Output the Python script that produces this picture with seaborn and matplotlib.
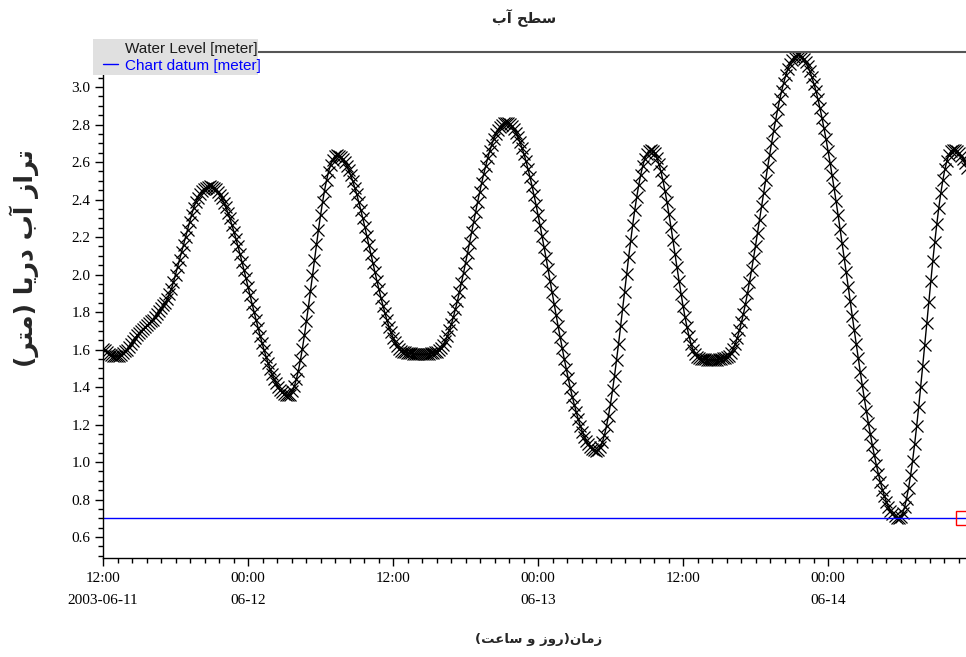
import pandas as pd
import matplotlib
matplotlib.use('Agg')
import matplotlib.pyplot as plt
from matplotlib.ticker import MultipleLocator, FormatStrFormatter
from matplotlib.lines import Line2D
from matplotlib.patches import Rectangle
import seaborn as sns

# water level every 10 minutes (meter)
level_0611 = [1.605, 1.595, 1.586, 1.578, 1.572, 1.568, 1.566, 1.565,
              1.567, 1.572, 1.58, 1.59, 1.60, 1.615, 1.63, 1.645, 1.66, 1.675, 1.69, 1.70,
              1.71, 1.72, 1.73, 1.74, 1.75, 1.76, 1.775, 1.79, 1.805, 1.82, 1.835, 1.85,
              1.87, 1.895, 1.925, 1.96, 2.00, 2.04, 2.08, 2.12, 2.16, 2.20, 2.24, 2.28,
              2.32, 2.355, 2.385, 2.41, 2.43, 2.445, 2.455, 2.463, 2.468, 2.47,
              2.468, 2.463, 2.454, 2.441, 2.425, 2.406, 2.384, 2.358, 2.330, 2.299, 2.265,
              2.229, 2.191, 2.151, 2.110, 2.068, 2.024, 1.980]
level_0612 = [1.935, 1.890, 1.845, 1.801, 1.758, 1.715, 1.674, 1.634, 1.596, 1.560, 1.526,
              1.495, 1.467, 1.441, 1.419, 1.400, 1.384, 1.371, 1.362, 1.357, 1.355,
              1.360, 1.377, 1.404, 1.441, 1.487, 1.542, 1.605, 1.675, 1.750, 1.829, 1.911,
              1.995, 2.079, 2.161, 2.240, 2.315, 2.385, 2.448, 2.503, 2.549, 2.586, 2.613,
              2.630, 2.635,
              2.633, 2.626, 2.615, 2.600, 2.580, 2.556, 2.529, 2.498, 2.464, 2.427, 2.386,
              2.344, 2.300, 2.254, 2.206, 2.159, 2.110, 2.062, 2.014, 1.966, 1.921, 1.876,
              1.834, 1.794, 1.756, 1.722, 1.691, 1.664, 1.640, 1.621, 1.605, 1.594, 1.587,
              1.585,
              1.583, 1.581, 1.579, 1.577, 1.576, 1.575, 1.574, 1.574, 1.574, 1.575, 1.576,
              1.578, 1.580, 1.582, 1.585,
              1.587, 1.595, 1.607, 1.624, 1.646, 1.672, 1.702, 1.736, 1.774, 1.816, 1.860,
              1.907, 1.957, 2.008, 2.061, 2.115, 2.170, 2.225, 2.280, 2.334, 2.387, 2.438,
              2.488, 2.535, 2.579, 2.621, 2.659, 2.693, 2.723, 2.749, 2.771, 2.788, 2.800,
              2.808, 2.81,
              2.808, 2.801, 2.791, 2.776, 2.757, 2.734, 2.708, 2.677, 2.643, 2.605, 2.564,
              2.521, 2.474, 2.424, 2.373]
level_0613 = [2.319, 2.263, 2.205, 2.147, 2.087, 2.027, 1.965, 1.905, 1.844, 1.783, 1.723,
              1.665, 1.607, 1.551, 1.498, 1.446, 1.396, 1.349, 1.306, 1.265, 1.227, 1.193,
              1.162, 1.136, 1.113, 1.094, 1.079, 1.069, 1.062, 1.060,
              1.065, 1.082, 1.108, 1.145, 1.192, 1.248, 1.312, 1.383, 1.461, 1.545, 1.632,
              1.723, 1.816, 1.909, 2.002, 2.093, 2.180, 2.264, 2.342, 2.413, 2.477, 2.533,
              2.580, 2.617, 2.643, 2.660, 2.665,
              2.660, 2.646, 2.623, 2.591, 2.550, 2.503, 2.448, 2.388, 2.322, 2.254, 2.183,
              2.110, 2.038, 1.966, 1.898, 1.833, 1.772, 1.718, 1.670, 1.629, 1.597, 1.574,
              1.560, 1.555,
              1.552, 1.550, 1.548, 1.546, 1.545, 1.544, 1.544, 1.545, 1.546, 1.548, 1.550,
              1.553, 1.556,
              1.559, 1.568, 1.584, 1.605, 1.632, 1.664, 1.702, 1.745, 1.792, 1.844, 1.900,
              1.960, 2.022, 2.087, 2.154, 2.223, 2.293, 2.363, 2.433, 2.503, 2.572, 2.639,
              2.704, 2.767, 2.826, 2.882, 2.934, 2.981, 3.024, 3.062, 3.095, 3.121, 3.143,
              3.158, 3.167, 3.170,
              3.168, 3.160, 3.148, 3.131, 3.110, 3.083, 3.052, 3.017, 2.978, 2.934, 2.887,
              2.835, 2.780, 2.722]
level_0614 = [2.661, 2.597, 2.530, 2.461, 2.390, 2.317, 2.242, 2.166, 2.090, 2.013, 1.935,
              1.857, 1.780, 1.704, 1.628, 1.553, 1.480, 1.409, 1.340, 1.273, 1.209, 1.148,
              1.090, 1.035, 0.983, 0.936, 0.892, 0.853, 0.818, 0.787, 0.761, 0.739, 0.722,
              0.710, 0.702, 0.700,
              0.707, 0.727, 0.759, 0.805, 0.862, 0.930, 1.008, 1.096, 1.191, 1.293, 1.401,
              1.512, 1.625, 1.740, 1.853, 1.964, 2.072, 2.174, 2.269, 2.357, 2.435, 2.503,
              2.561, 2.606, 2.638, 2.658, 2.665,
              2.663, 2.657, 2.647, 2.633, 2.615, 2.594, 2.570]

CHART_DATUM = 0.70
START = '2003-06-11 12:00'
END = '2003-06-14 11:25'

x_tick_labels = ['12:00\n2003-06-11', '00:00\n06-12', '12:00',
                 '00:00\n06-13', '12:00', '00:00\n06-14']

TITLE = 'سطح آب'
XLABEL = 'زمان(روز و ساعت)'
YLABEL = 'تراز آب دریا (متر)'
LEG_LEVEL = 'Water Level [meter]'
LEG_DATUM = 'Chart datum [meter]'

# matplotlib has no arabic shaping, so pick presentation forms by hand
# (isolated, final, initial, medial)
FORMS = {
    'ا': ('\uFE8D', '\uFE8E', None, None),
    'آ': ('\uFE81', '\uFE82', None, None),
    'د': ('\uFEA9', '\uFEAA', None, None),
    'ر': ('\uFEAD', '\uFEAE', None, None),
    'ز': ('\uFEAF', '\uFEB0', None, None),
    'و': ('\uFEED', '\uFEEE', None, None),
    'ب': ('\uFE8F', '\uFE90', '\uFE91', '\uFE92'),
    'ت': ('\uFE95', '\uFE96', '\uFE97', '\uFE98'),
    'ح': ('\uFEA1', '\uFEA2', '\uFEA3', '\uFEA4'),
    'س': ('\uFEB1', '\uFEB2', '\uFEB3', '\uFEB4'),
    'ط': ('\uFEC1', '\uFEC2', '\uFEC3', '\uFEC4'),
    'ع': ('\uFEC9', '\uFECA', '\uFECB', '\uFECC'),
    'م': ('\uFEE1', '\uFEE2', '\uFEE3', '\uFEE4'),
    'ن': ('\uFEE5', '\uFEE6', '\uFEE7', '\uFEE8'),
    'ی': ('\uFBFC', '\uFBFD', '\uFEF3', '\uFEF4'),
}


def shape_fa(text):
    out = []
    for i, ch in enumerate(text):
        if ch not in FORMS:
            out.append(ch)
            continue
        prev = text[i - 1] if i > 0 else ''
        nxt = text[i + 1] if i + 1 < len(text) else ''
        join_prev = prev in FORMS and FORMS[prev][2] is not None
        join_next = FORMS[ch][2] is not None and nxt in FORMS
        iso, fin, ini, med = FORMS[ch]
        if join_prev and join_next:
            out.append(med)
        elif join_prev:
            out.append(fin)
        elif join_next:
            out.append(ini)
        else:
            out.append(iso)
    mirror = {'(': ')', ')': '('}
    return ''.join(mirror.get(c, c) for c in reversed(out))


levels = level_0611 + level_0612 + level_0613 + level_0614
df = pd.DataFrame({
    'time': pd.date_range(START, periods=len(levels), freq='10min'),
    'level': levels,
})

sns.set_style('ticks')
plt.rcParams['font.family'] = ['Liberation Serif', 'DejaVu Sans']

W, H = 966, 657
fig = plt.figure(figsize=(W / 100, H / 100), dpi=100)
ax = fig.add_axes([103 / W, 1 - 558 / H, (W - 103) / W, (558 - 52) / H])

sns.lineplot(data=df, x='time', y='level', ax=ax, color='black', linewidth=1.0,
             marker='x', markersize=9, markeredgewidth=0.9,
             markeredgecolor='black', legend=False)
ax.axhline(CHART_DATUM, color='#0000ff', linewidth=1)
ax.plot(df['time'].iloc[-3], CHART_DATUM, marker='s', markersize=9.5,
        markerfacecolor='none', markeredgecolor='red', markeredgewidth=1,
        clip_on=False, zorder=5)

ax.set_xlim(pd.Timestamp(START), pd.Timestamp(END))
ax.set_ylim(0.488, 3.187)

ax.set_xticks(pd.date_range(START, periods=len(x_tick_labels), freq='12h'))
ax.set_xticklabels(x_tick_labels)
ax.xaxis.set_minor_locator(MultipleLocator(0.05))
ax.yaxis.set_major_locator(MultipleLocator(0.2))
ax.yaxis.set_minor_locator(MultipleLocator(0.05))
ax.yaxis.set_major_formatter(FormatStrFormatter('%.1f'))

ax.tick_params(axis='both', which='major', length=6, width=1, color='black',
               labelsize=11, labelcolor='black', direction='out')
ax.tick_params(axis='x', which='major', pad=4)
ax.tick_params(axis='y', which='major', pad=3)
ax.tick_params(axis='both', which='minor', length=3.5, width=1, color='black',
               direction='out')
ax.tick_params(top=False, right=False, which='both')

ax.set_xlabel('')
ax.set_ylabel('')
for side in ['left', 'bottom']:
    ax.spines[side].set_color('black')
    ax.spines[side].set_linewidth(1)
ax.spines['top'].set_color('#555555')
ax.spines['top'].set_linewidth(1.5)
ax.spines['right'].set_visible(False)

# legend sits on a grey box over the top left corner
fig.add_artist(Rectangle((93 / W, 1 - 75 / H), (258 - 93) / W, 36 / H,
                         transform=fig.transFigure, facecolor='#e0e0e0',
                         edgecolor='none', zorder=4))
handles = [Line2D([], [], color='none'),
           Line2D([], [], color='#0000ff', linewidth=1)]
leg = fig.legend(handles, [LEG_LEVEL, LEG_DATUM], loc='upper left',
                 bbox_to_anchor=(103 / W, 1 - 42 / H), frameon=False,
                 borderpad=0, borderaxespad=0, handlelength=1.0,
                 handletextpad=0.46, labelspacing=0.17,
                 prop={'family': 'Liberation Sans', 'size': 11})
leg.set_zorder(5)
leg.get_texts()[0].set_color('#1a1a1a')
leg.get_texts()[1].set_color('#0000ff')

fig.text(524 / W, 1 - 18 / H, shape_fa(TITLE), family='DejaVu Sans',
         weight='bold', fontsize=10.5, ha='center', va='center')
fig.text(539 / W, 1 - 640 / H, shape_fa(XLABEL), family='DejaVu Sans',
         weight='bold', fontsize=9.5, ha='center', va='center')
fig.text(24 / W, 1 - 258 / H, shape_fa(YLABEL), family='DejaVu Sans',
         weight='bold', fontsize=18, ha='center', va='center', rotation=90)

# two-line date labels need a bit more room between the lines
for tick in ax.xaxis.get_major_ticks():
    tick.label1.set_linespacing(1.95)

fig.savefig('out.png', dpi=100)
